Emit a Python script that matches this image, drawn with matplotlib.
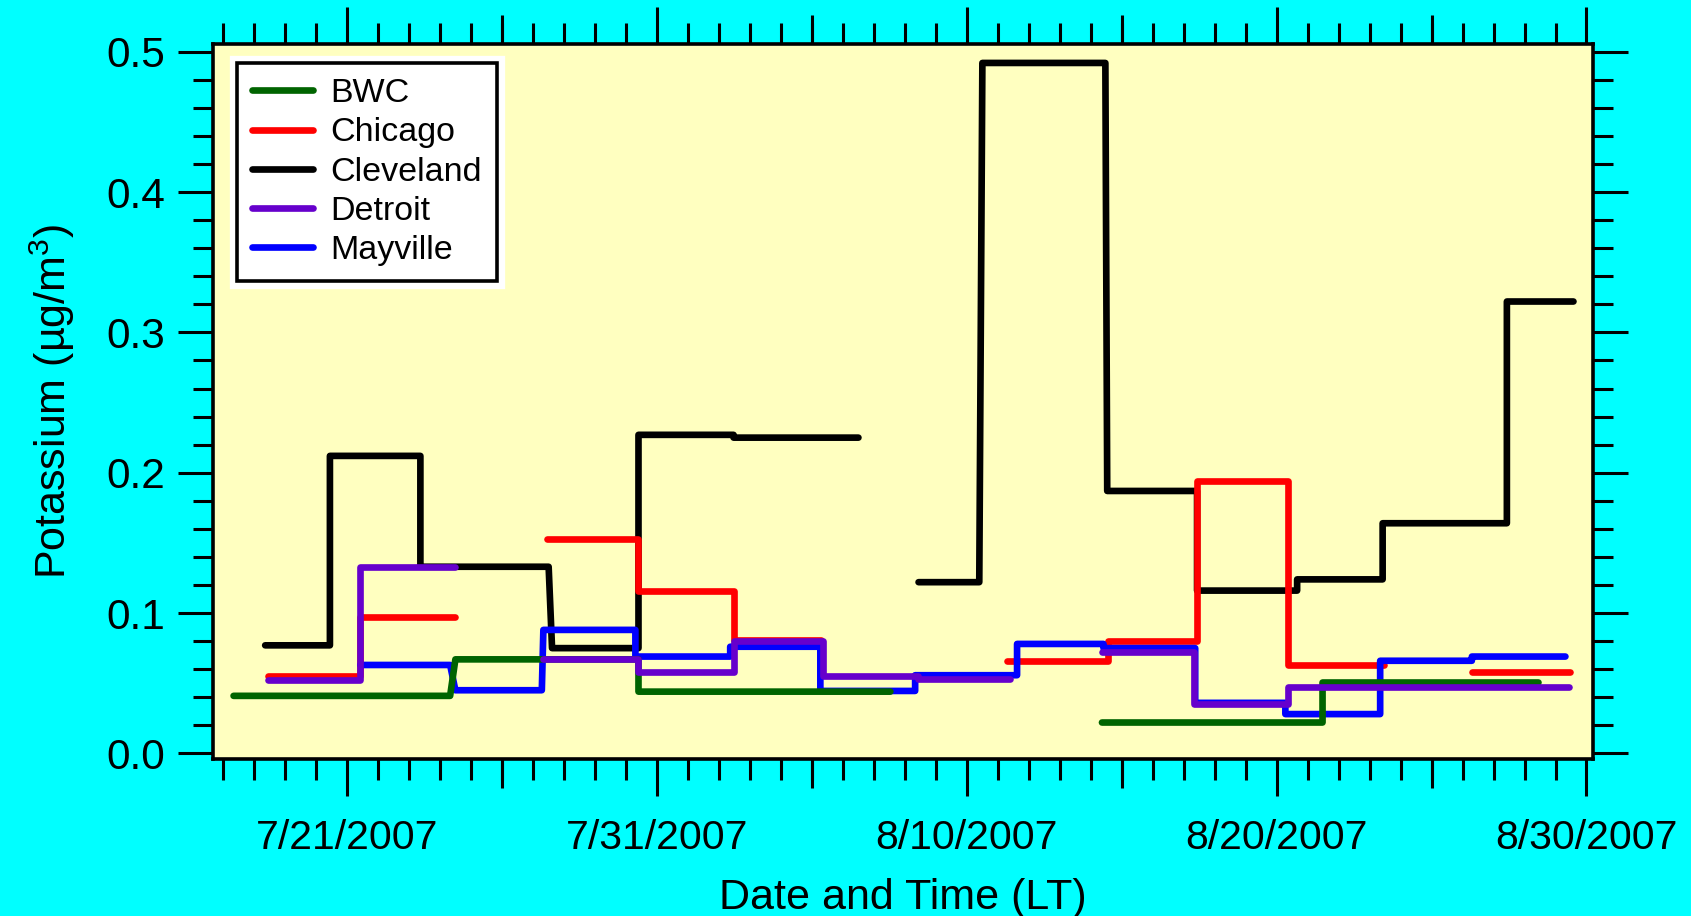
import numpy as np
import matplotlib
matplotlib.use("Agg")
import matplotlib.pyplot as plt
import matplotlib.dates as mdates
import matplotlib.patheffects as pe
from matplotlib.ticker import FixedLocator, MultipleLocator
from datetime import datetime

# Sampling periods as day numbers counted from 30 June 2007 (1 Aug 2007 = 32),
# potassium concentration in ug/m3 for each period.
bwc_start = [17.33, 24.49, 30.40, 45.36, 52.48]
bwc_end = [24.32, 30.40, 38.53, 52.48, 59.45]
bwc_val = [0.041, 0.067, 0.044, 0.022, 0.0505]

chi_start = [18.45, 21.42, 27.45, 30.40, 33.47, 42.29, 45.57, 48.43, 51.38, 57.30]
chi_end = [21.42, 24.49, 30.40, 33.47, 36.30, 45.57, 48.43, 51.38, 54.45, 60.48]
chi_val = [0.055, 0.097, 0.153, 0.116, 0.081, 0.066, 0.080, 0.194, 0.063, 0.058]

cle_start = [18.35, 20.44, 23.36, 27.61, 30.40, 33.47, 39.44, 41.50, 45.53, 48.43, 51.66, 54.42, 58.43]
cle_end = [20.44, 23.36, 27.50, 30.40, 33.47, 37.50, 41.40, 45.47, 48.43, 51.66, 54.42, 58.43, 60.58]
cle_val = [0.077, 0.212, 0.133, 0.075, 0.227, 0.225, 0.122, 0.492, 0.187, 0.116, 0.124, 0.164, 0.322]

det_start = [18.45, 21.42, 27.33, 30.40, 33.47, 36.37, 39.43, 45.36, 48.32, 51.38]
det_end = [21.42, 24.49, 30.40, 33.47, 36.37, 39.43, 42.40, 48.32, 51.38, 60.42]
det_val = [0.052, 0.133, 0.067, 0.058, 0.080, 0.0555, 0.053, 0.072, 0.0355, 0.047]

may_start = [21.42, 24.49, 27.33, 30.30, 33.36, 36.27, 39.33, 42.62, 45.41, 48.37, 51.28, 54.34, 57.30]
may_end = [24.32, 27.28, 30.30, 33.36, 36.27, 39.33, 42.62, 45.41, 48.37, 51.28, 54.34, 57.30, 60.32]
may_val = [0.063, 0.045, 0.088, 0.069, 0.076, 0.0445, 0.0557, 0.078, 0.075, 0.036, 0.028, 0.066, 0.069]

site_names = ["BWC", "Chicago", "Cleveland", "Detroit", "Mayville"]
site_colors = ["#006400", "#FF0000", "#000000", "#6600CC", "#0000FF"]
site_z = [4, 2, 1, 5, 3]

date_ticks = [21, 31, 41, 51, 61]
date_labels = ["7/21/2007", "7/31/2007", "8/10/2007", "8/20/2007", "8/30/2007"]
y_ticks = [0.0, 0.1, 0.2, 0.3, 0.4, 0.5]
y_labels = ["0.0", "0.1", "0.2", "0.3", "0.4", "0.5"]

BASE = mdates.date2num(datetime(2007, 6, 30))

plt.rcParams["font.family"] = ["Liberation Sans", "DejaVu Sans"]
plt.rcParams["mathtext.fontset"] = "custom"
plt.rcParams["mathtext.rm"] = "Liberation Sans"
plt.rcParams["mathtext.it"] = "Liberation Sans:italic"


def step_path(starts, ends, vals, max_gap=0.5):
    """Horizontal bar per sampling period, joined to the next period unless
    there is a gap in the record."""
    xs, ys = [], []
    for i, (s, e, v) in enumerate(zip(starts, ends, vals)):
        if i and s - ends[i - 1] > max_gap:
            xs.append(np.nan)
            ys.append(np.nan)
        xs += [s, e]
        ys += [v, v]
    return np.array(xs) + BASE, np.array(ys)


W, H = 1691, 916
fig = plt.figure(figsize=(W / 100, H / 100), dpi=100, facecolor="#00FFFF")
left, right, top, bottom = 212.5, 1593, 44, 759
ax = fig.add_axes([left / W, 1 - bottom / H, (right - left) / W, (bottom - top) / H])
ax.set_facecolor("#FFFFC0")

LW = 4.8
series = [
    (bwc_start, bwc_end, bwc_val),
    (chi_start, chi_end, chi_val),
    (cle_start, cle_end, cle_val),
    (det_start, det_end, det_val),
    (may_start, may_end, may_val),
]
handles = []
for (s, e, v), name, color, z in zip(series, site_names, site_colors, site_z):
    x, y = step_path(s, e, v)
    (ln,) = ax.plot(x, y, color=color, lw=LW, zorder=z, label=name,
                    solid_capstyle="round", solid_joinstyle="round")
    handles.append(ln)

ax.set_xlim(BASE + 16.65, BASE + 61.21)
ax.set_ylim(-0.004, 0.5055)

# x axis: long ticks every 10 days, medium every 5, short daily
ax.xaxis.set_major_locator(FixedLocator([BASE + d for d in date_ticks]))
ax.set_xticklabels(date_labels)
ax.xaxis.set_minor_locator(FixedLocator([BASE + d for d in range(17, 62)]))
ax.yaxis.set_major_locator(FixedLocator(y_ticks))
ax.set_yticklabels(y_labels)
ax.yaxis.set_minor_locator(MultipleLocator(0.02))

ax.tick_params(axis="both", which="both", direction="out", top=True, right=True,
               width=2.2, colors="black")
ax.tick_params(axis="x", which="major", length=26.5, pad=17, labelsize=29.5)
ax.tick_params(axis="x", which="minor", length=15)
ax.tick_params(axis="y", which="major", length=25, pad=9, labelsize=30.5)
ax.tick_params(axis="y", which="minor", length=14.5)
for sp in ax.spines.values():
    sp.set_linewidth(2.6)

mid_ticks = [BASE + d for d in (26, 36, 46, 56)]
for loc in ("bottom", "top"):
    sec = ax.secondary_xaxis(loc)
    sec.set_xticks(mid_ticks)
    sec.tick_params(axis="x", direction="out", length=21, width=2.2,
                    labelbottom=False, labeltop=False)
    sec.spines[loc].set_visible(False)

ax.set_xlabel("Date and Time (LT)", fontsize=31, labelpad=15)
ax.set_ylabel("Potassium (µg/m$^{3}$)", fontsize=31, labelpad=21)

leg = ax.legend(handles=handles, loc="upper left", bbox_to_anchor=(0.0175, 0.9735),
                borderaxespad=0, fontsize=24.5, handlelength=1.8, handletextpad=0.5,
                labelspacing=0.24, borderpad=0.45, fancybox=False, framealpha=1,
                edgecolor="black", facecolor="white")
for h in leg.legend_handles:
    h.set_linewidth(LW)
frame = leg.get_frame()
frame.set_linewidth(2.6)
frame.set_path_effects([pe.Stroke(linewidth=11, foreground="white", joinstyle="miter"),
                        pe.Normal()])

fig.savefig("out.png", dpi=100, facecolor=fig.get_facecolor())
